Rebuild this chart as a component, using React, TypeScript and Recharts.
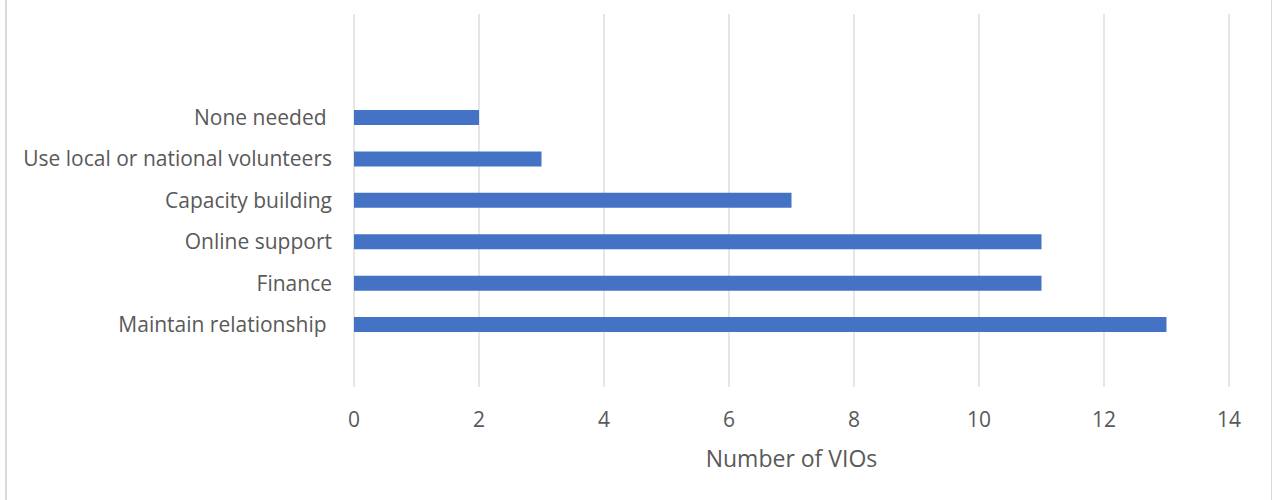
import { BarChart, Bar, XAxis, YAxis, CartesianGrid, Label } from 'recharts'

document.body.style.margin = '0'

const categories = [
  'None needed ',
  'Use local or national volunteers',
  'Capacity building',
  'Online support',
  'Finance',
  'Maintain relationship ',
]
const vioCounts = [2, 3, 7, 11, 11, 13]
const xTicks = [0, 2, 4, 6, 8, 10, 12, 14]

const data = categories.map((name, i) => ({ name, count: vioCounts[i] }))

const FONT = '"Open Sans", "Noto Sans", sans-serif'
const TEXT = '#595959'

function CategoryTick(props: any) {
  const { x, y, payload } = props
  return (
    <text
      x={x}
      y={y}
      dy="0.35em"
      textAnchor="end"
      fill={TEXT}
      fontSize={21}
      fontFamily={FONT}
      style={{ whiteSpace: 'pre' }}
    >
      {payload.value}
    </text>
  )
}

export default function App() {
  return (
    <div style={{ position: 'relative', width: 1272, height: 500, background: '#fff' }}>
      <div
        style={{
          position: 'absolute', left: 5, top: 0, width: 1264, height: 500,
          borderLeft: '2px solid #d9d9d9', borderRight: '2px solid #d9d9d9',
        }}
      />
      <BarChart
        width={1272}
        height={500}
        data={data}
        layout="vertical"
        margin={{ top: 14, right: 43, bottom: 0, left: 0 }}
        style={{ position: 'absolute', left: 0, top: 0 }}
      >
        <CartesianGrid vertical horizontal={false} stroke="#d9d9d9" strokeWidth={1.3} />
        <XAxis
          type="number"
          domain={[0, 14]}
          ticks={xTicks}
          height={113}
          axisLine={false}
          tickLine={false}
          tickSize={0}
          tickMargin={25}
          tick={{ fill: TEXT, fontSize: 21, fontFamily: FONT }}
        >
          <Label
            value="Number of VIOs"
            position="insideBottom"
            offset={33}
            fill={TEXT}
            fontSize={23}
            fontFamily={FONT}
          />
        </XAxis>
        <YAxis
          type="category"
          dataKey="name"
          width={354}
          axisLine={false}
          tickLine={false}
          tickSize={0}
          tickMargin={22}
          padding={{ top: 83, bottom: 41.5 }}
          tick={<CategoryTick />}
          interval={0}
        />
        <Bar dataKey="count" fill="#4472c4" barSize={15} isAnimationActive={false} />
      </BarChart>
    </div>
  )
}
